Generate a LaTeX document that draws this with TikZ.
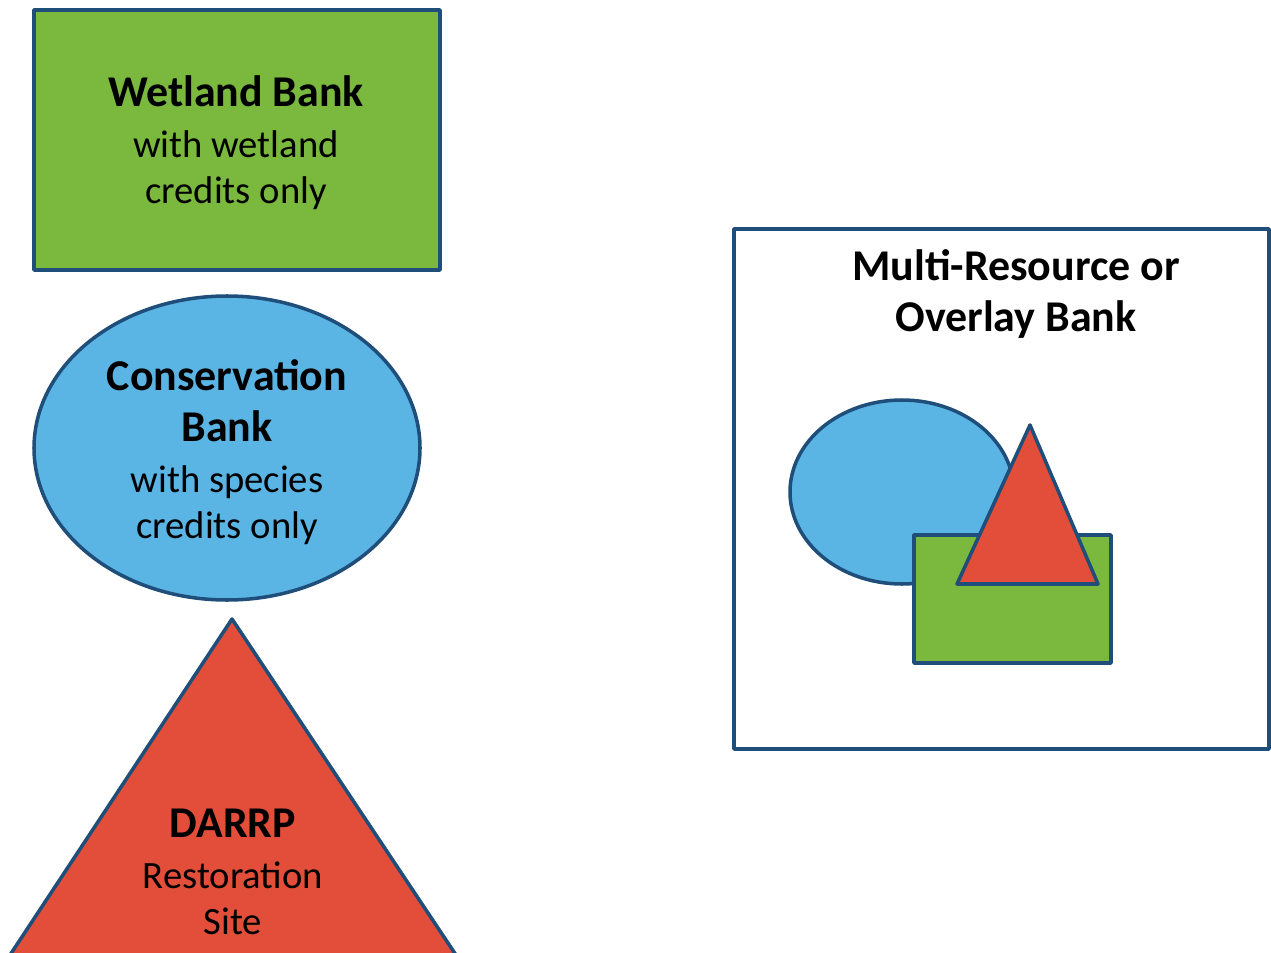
\documentclass[tikz,border=0pt]{standalone}
\usepackage{fontspec}
\setmainfont{Carlito}
\definecolor{bankgreen}{RGB}{122,184,62}
\definecolor{bankblue}{RGB}{90,180,228}
\definecolor{bankred}{RGB}{226,78,58}
\definecolor{edgeblue}{RGB}{30,78,121}
\tikzset{
    banklabel/.style={align=center, font=\fontsize{22}{26}\selectfont},
    bankedge/.style={draw=edgeblue, line width=2pt, line join=round}
}
\newcommand{\bankname}[1]{{\bfseries\fontsize{25}{29}\selectfont #1}}
\begin{document}
\begin{tikzpicture}[x=0.02cm, y=-0.02cm]
    \useasboundingbox (0,0) rectangle (1271,953);

    % Single-resource banks
    \filldraw[bankedge, fill=bankgreen] (34,10) rectangle (440,270);
    \node[banklabel] (wetland) at (236,143) {\bankname{Wetland Bank}\\[3pt]with wetland\\credits only};

    \filldraw[bankedge, fill=bankblue] (227,448) ellipse [x radius=193, y radius=152];
    \node[banklabel] (conservation) at (227,452) {\bankname{Conservation}\\[3pt]\bankname{Bank}\\[3pt]with species\\credits only};

    \filldraw[bankedge, fill=bankred] (232,619) -- (456,955) -- (10,955) -- cycle;
    \node[banklabel] (darrp) at (233,872) {\bankname{DARRP}\\[3pt]Restoration\\Site};

    % Overlay bank
    \draw[bankedge, fill=white] (734,229) rectangle (1269,749);
    \node[banklabel] (overlay) at (1016,294) {\bankname{Multi-Resource or}\\[3pt]\bankname{Overlay Bank}};

    \filldraw[bankedge, fill=bankblue] (902,492) ellipse [x radius=112, y radius=92];
    \filldraw[bankedge, fill=bankgreen] (914,535) rectangle (1111,663);
    \filldraw[bankedge, fill=bankred] (1030,425) -- (1098,584) -- (957,584) -- cycle;
\end{tikzpicture}
\end{document}
